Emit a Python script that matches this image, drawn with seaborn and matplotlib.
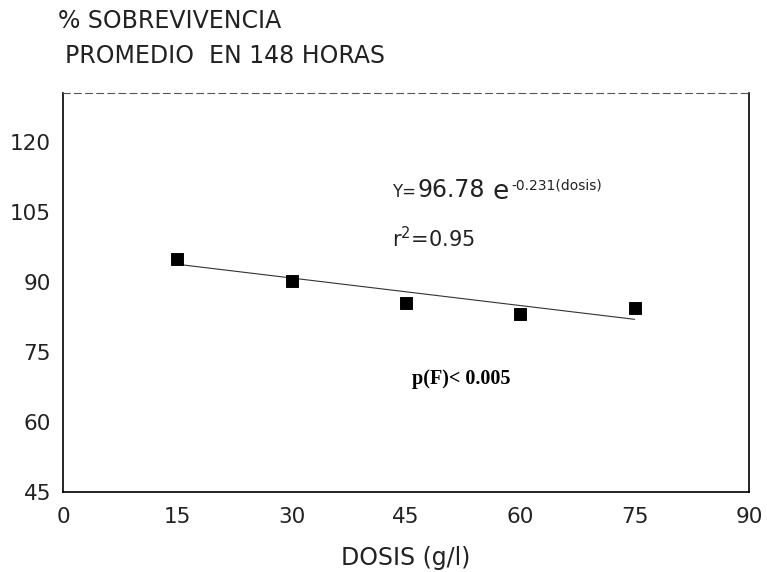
import matplotlib
matplotlib.use("Agg")
import matplotlib.pyplot as plt
import seaborn as sns
import pandas as pd

# Data
dosis = [15, 30, 45, 60, 75]
sobrevivencia = [94.9, 90.2, 85.5, 83.1, 84.4]
fit_x = [15, 75]
fit_y = [93.8, 82.0]
x_ticks = [0, 15, 30, 45, 60, 75, 90]
y_ticks = [45, 60, 75, 90, 105, 120]

sns.set_theme(style="white")
plt.rcParams['font.family'] = ['DejaVu Sans']

fig = plt.figure(figsize=(7.67, 5.72), dpi=100)
ax = fig.add_axes([0.0821, 0.1399, 0.8944, 0.6975])

df = pd.DataFrame({"dosis": dosis, "sob": sobrevivencia})
sns.lineplot(x=fit_x, y=fit_y, ax=ax, color="#333333", linewidth=0.8)
sns.scatterplot(data=df, x="dosis", y="sob", ax=ax, marker="s", s=70,
                color="black", edgecolor="black", zorder=5)

ax.set_xlim(0, 90)
ax.set_ylim(45, 130.5)
ax.set_xticks(x_ticks)
ax.set_yticks(y_ticks)
ax.set_xticklabels([str(v) for v in x_ticks], fontsize=15.5, color="#222222")
ax.set_yticklabels([str(v) for v in y_ticks], fontsize=15.5, color="#222222")
ax.tick_params(direction="inout", length=9, width=0.8, color="black", pad=4)
ax.tick_params(axis="x", pad=6)
ax.set_xlabel("DOSIS (g/l)", fontsize=17, color="#222222", labelpad=14)
ax.set_ylabel("")

for side in ["left", "bottom", "right"]:
    ax.spines[side].set_color("black")
    ax.spines[side].set_linewidth(1.2)
ax.spines["top"].set_color("#555555")
ax.spines["top"].set_linewidth(0.8)
ax.spines["top"].set_linestyle((0, (6, 4)))

fig.text(0.0756, 0.951, "% SOBREVIVENCIA", fontsize=17, color="#222222",
         va="baseline", ha="left")
fig.text(0.0847, 0.890, "PROMEDIO  EN 148 HORAS", fontsize=17, color="#222222",
         va="baseline", ha="left")

t1 = ax.text(43.2, 108.3, "Y=", fontsize=12, color="#222222", va="baseline", ha="left")
t2 = ax.annotate("96.78", xy=(1, 0), xycoords=t1, xytext=(1, -1),
                 textcoords="offset points", fontsize=17, color="#222222",
                 va="bottom", ha="left")
t3 = ax.annotate("e", xy=(1, 0), xycoords=t2, xytext=(5, -2),
                 textcoords="offset points", fontsize=19, color="#222222",
                 va="bottom", ha="left")
ax.annotate("-0.231(dosis)", xy=(1, 1), xycoords=t3, xytext=(2, 0),
            textcoords="offset points", fontsize=10, color="#222222",
            va="top", ha="left")
ax.text(43.2, 97.5, r"r$^2$=0.95", fontsize=15, color="#222222", va="baseline", ha="left")
ax.text(52.2, 69.2, "p(F)< 0.005", fontsize=14.5, fontweight="bold",
        family="Liberation Serif", color="black", va="center", ha="center")

fig.savefig("out.png", dpi=100, facecolor="white")
